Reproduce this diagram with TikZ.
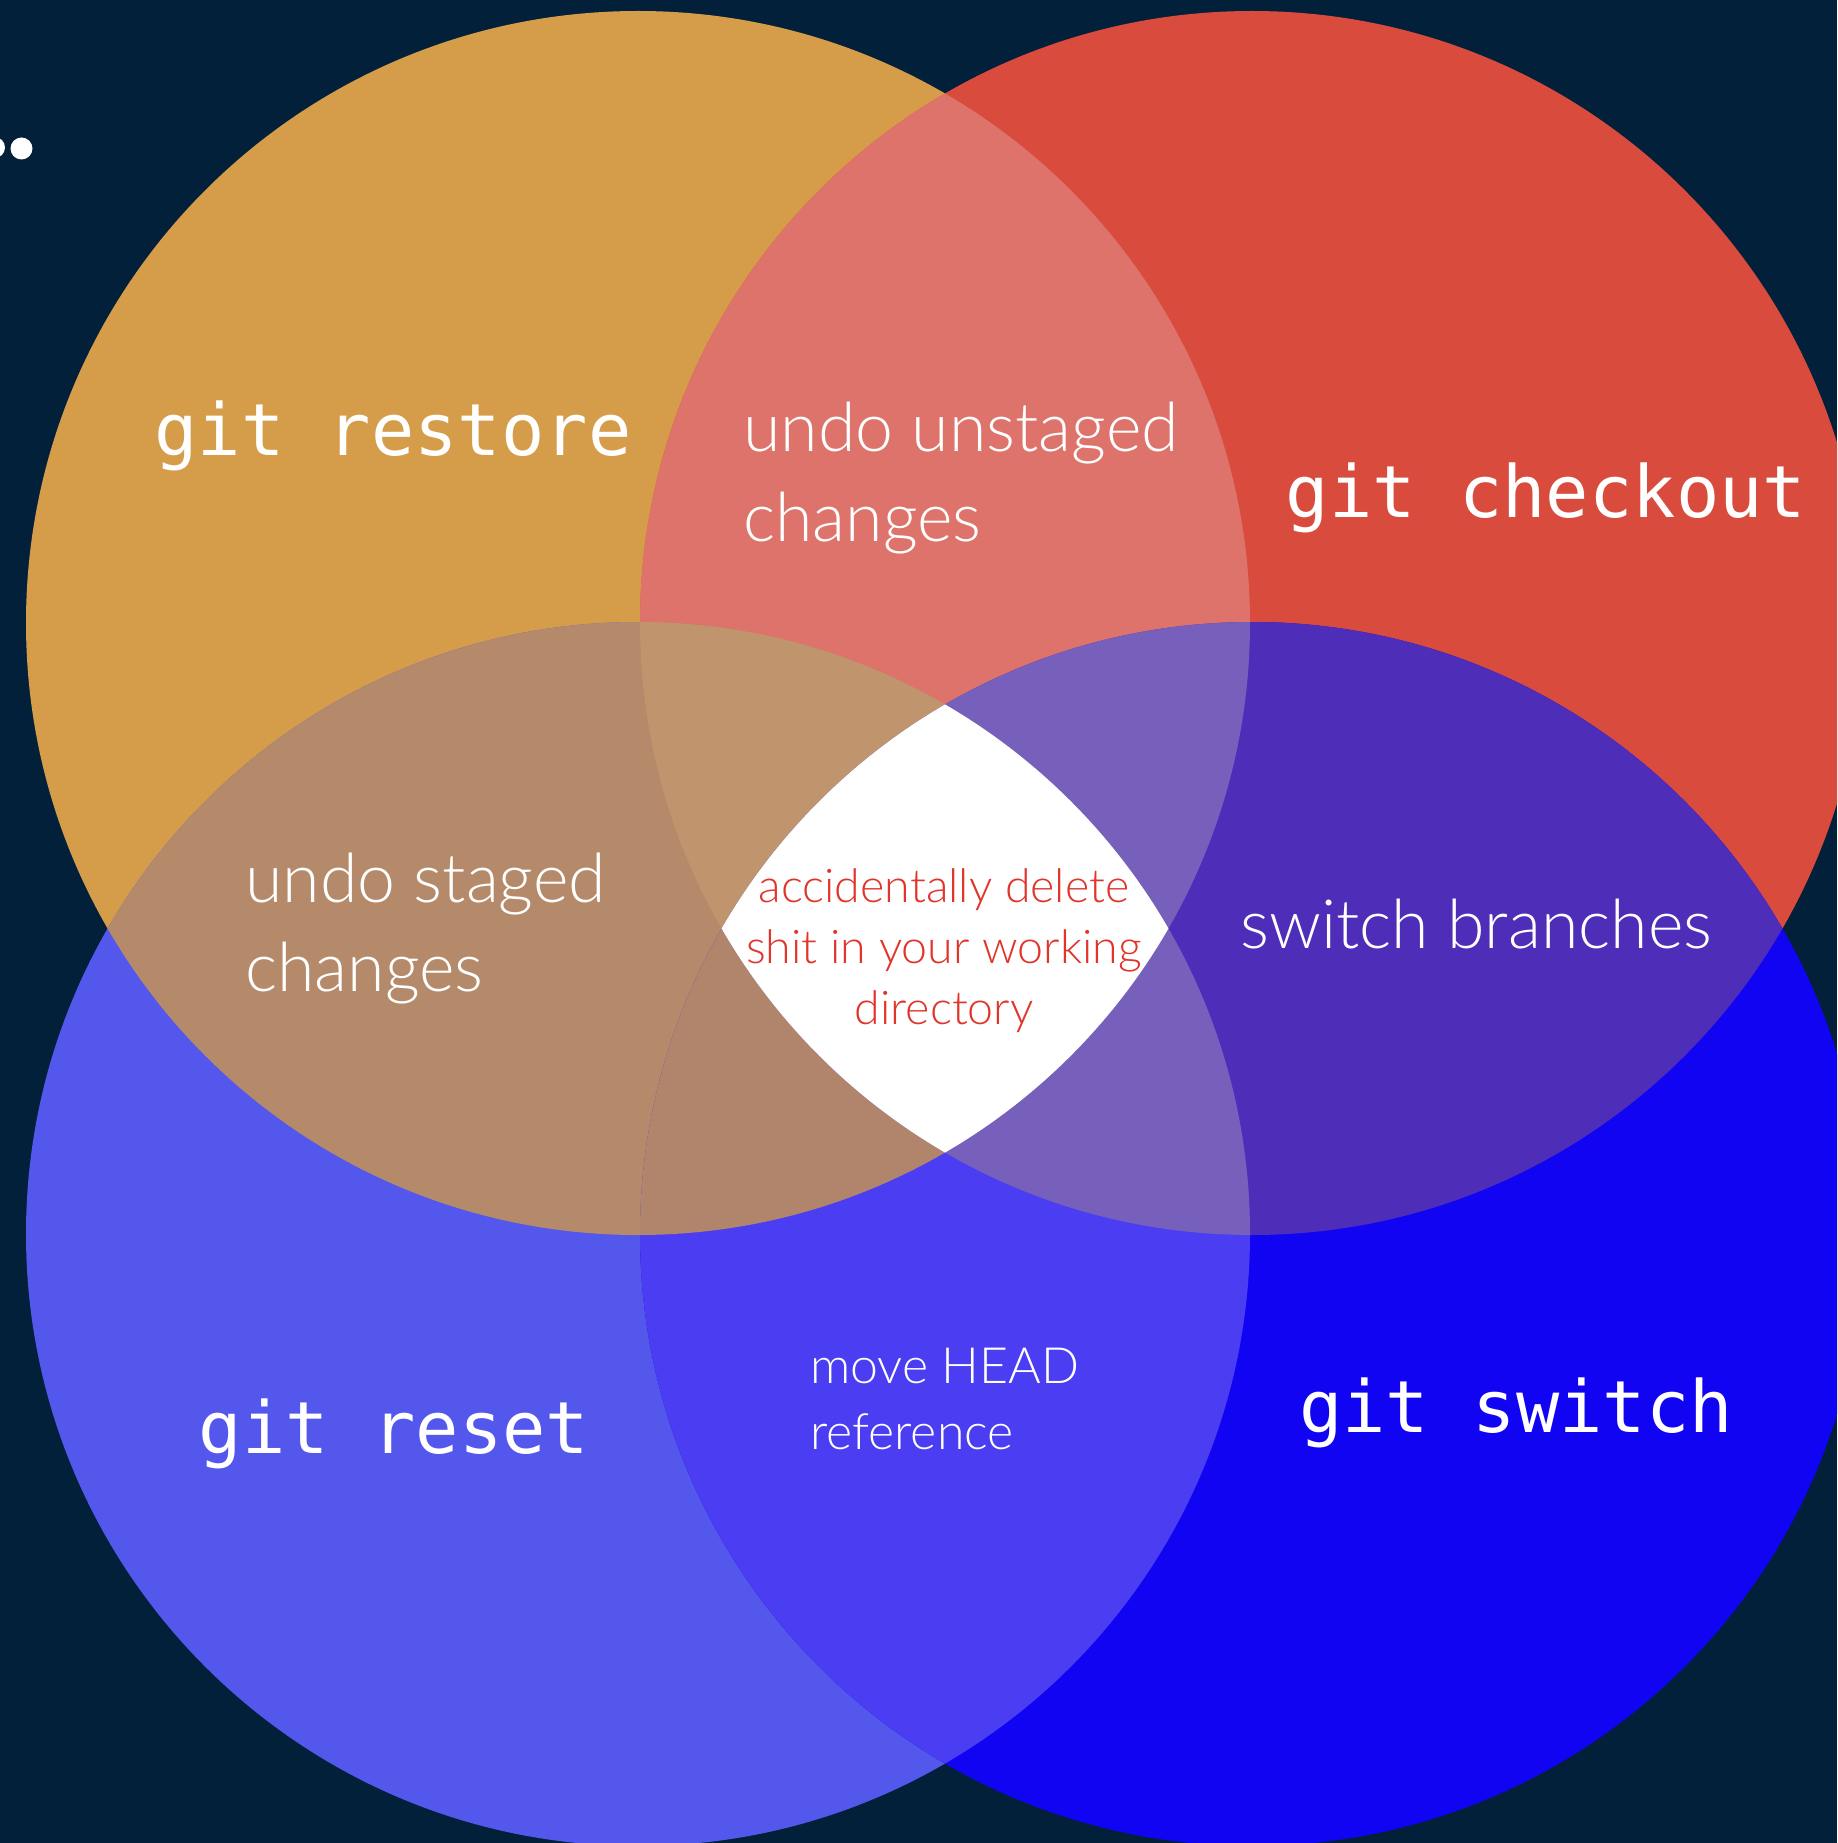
\documentclass[tikz,border=0pt]{standalone}
\usepackage{fontspec}
\newfontfamily\monof{DejaVu Sans Mono}
\newfontfamily\lblf{Lato Light}
\definecolor{bg}{HTML}{02203A}
\definecolor{cO}{HTML}{D59D49}
\definecolor{cR}{HTML}{D84B3D}
\definecolor{cBL}{HTML}{5457EC}
\definecolor{cBR}{HTML}{1004F2}
\definecolor{cOR}{HTML}{DE736B}
\definecolor{cOBL}{HTML}{B48A6A}
\definecolor{cRBR}{HTML}{4E2DB8}
\definecolor{cBLBR}{HTML}{4B3DF1}
\definecolor{cORBL}{HTML}{C0956D}
\definecolor{cORBR}{HTML}{7760BC}
\definecolor{cOBLBR}{HTML}{B0856C}
\definecolor{cRBLBR}{HTML}{7760BC}
\definecolor{redtxt}{HTML}{E0352B}
\tikzset{
  rad/.style={radius=612pt},
  cmd/.style={font={\monof\fontsize{72}{72}\selectfont}, text=white, inner sep=0pt, anchor=base},
  lbl/.style={font={\lblf\fontsize{68}{68}\selectfont}, text=white, inner sep=0pt, anchor=base west},
  small/.style={font={\lblf\fontsize{50}{50}\selectfont}, text=white, inner sep=0pt, anchor=base west},
  ctr/.style={font={\lblf\fontsize{46.5}{46.5}\selectfont}, text=redtxt, inner sep=0pt, anchor=base},
}
\begin{document}
\begin{tikzpicture}[x=1pt,y=-1pt]
\useasboundingbox (0,0) rectangle (1837,1843);
\clip (0,0) rectangle (1837,1843);
\fill[bg] (0,0) rectangle (1837,1843);
\coordinate (O) at (638,623);
\coordinate (R) at (1252,623);
\coordinate (BL) at (638,1234);
\coordinate (BR) at (1252,1234);
% dots
\fill[white] (21.5,148.5) circle[radius=11pt];
\fill[white] (-5.5,147.5) circle[radius=10.5pt];
% base circles
\fill[cO] (O) circle[rad];
\fill[cR] (R) circle[rad];
\fill[cBL] (BL) circle[rad];
\fill[cBR] (BR) circle[rad];
% pairs
\begin{scope}\clip (O) circle[rad]; \fill[cOR] (R) circle[rad];\end{scope}
\begin{scope}\clip (O) circle[rad]; \fill[cOBL] (BL) circle[rad];\end{scope}
\begin{scope}\clip (R) circle[rad]; \fill[cRBR] (BR) circle[rad];\end{scope}
\begin{scope}\clip (BL) circle[rad]; \fill[cBLBR] (BR) circle[rad];\end{scope}
% triples
\begin{scope}\clip (O) circle[rad]; \clip (R) circle[rad]; \fill[cORBL] (BL) circle[rad];\end{scope}
\begin{scope}\clip (O) circle[rad]; \clip (R) circle[rad]; \fill[cORBR] (BR) circle[rad];\end{scope}
\begin{scope}\clip (O) circle[rad]; \clip (BL) circle[rad]; \fill[cOBLBR] (BR) circle[rad];\end{scope}
\begin{scope}\clip (R) circle[rad]; \clip (BL) circle[rad]; \fill[cRBLBR] (BR) circle[rad];\end{scope}
% all four
\begin{scope}\clip (O) circle[rad]; \clip (R) circle[rad]; \clip (BL) circle[rad]; \fill[white] (BR) circle[rad];\end{scope}
% commands
\node[cmd] (restore) at (393,455) {git restore};
\node[cmd] (checkout) at (1546,517) {git checkout};
\node[cmd] (reset) at (394,1453) {git reset};
\node[cmd] (switch) at (1516,1432) {git switch};
% labels
\node[lbl] (unst1) at (743,451) {undo unstaged};
\node[lbl] (unst2) at (743,541) {changes};
\node[lbl] (st1) at (245,902) {undo staged};
\node[lbl] (st2) at (245,991) {changes};
\node[lbl] (sb) at (1240,948) {switch branches};
\node[small] (mh1) at (810,1383) {move HEAD};
\node[small] (mh2) at (810,1449) {reference};
\node[ctr] (c1) at (944,902) {accidentally delete};
\node[ctr] (c2) at (944,963) {shit in your working};
\node[ctr] (c3) at (944,1024) {directory};
\end{tikzpicture}
\end{document}
